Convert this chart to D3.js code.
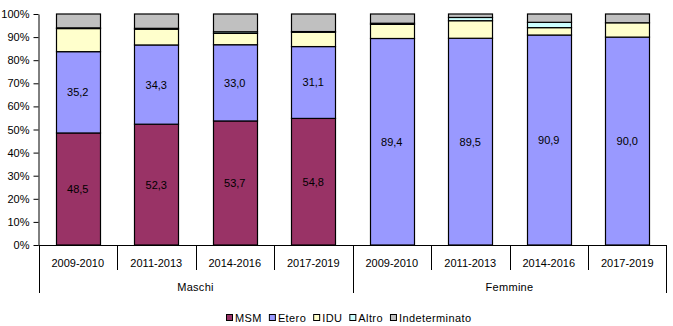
<!DOCTYPE html>
<html><head><meta charset="utf-8">
<script src="https://cdn.jsdelivr.net/npm/d3@7"></script>
<style>body{margin:0;background:#fff}svg{display:block;font-family:"Liberation Sans",Arial,sans-serif}</style>
</head><body><svg id="c" width="673" height="326"></svg>
<script>
const periods = ["2009-2010","2011-2013","2014-2016","2017-2019"];
const groups = ["Maschi","Femmine"];
const seriesNames = ["MSM","Etero","IDU","Altro","Indeterminato"];
const seriesColors = ["#993366","#9999FF","#FFFFCC","#CCFFFF","#C0C0C0"];
const msm   = [48.5,52.3,53.7,54.8, 0,0,0,0];
const etero = [35.2,34.3,33.0,31.1, 89.4,89.5,90.9,90.0];
const idu   = [10.0,6.8,4.9,6.2, 6.1,7.6,3.2,6.2];
const altro = [0.3,0.4,0.7,0.3, 0.5,1.4,2.3,0.0];
const indet = [6.0,6.2,7.7,7.6, 4.0,1.5,3.6,3.8];
const yTicks = [0,10,20,30,40,50,60,70,80,90,100];

(function(){
const svg = d3.select("#c");
const L = 38.5, R = 666.5, T = 14, B = 245;
const cats = [];
groups.forEach(g => periods.forEach(p => cats.push(g + "|" + p)));
const x = d3.scaleBand().domain(cats).range([L, R]).paddingInner(0.44).paddingOuter(0.22);
const y = d3.scaleLinear().domain([0,100]).range([B, T]);

const series = [msm, etero, idu, altro, indet];
const rows = cats.map((c,i) => {
  const o = {cat:c};
  seriesNames.forEach((s,k) => o[s] = series[k][i]);
  return o;
});
const stack = d3.stack().keys(seriesNames)(rows);

stack.forEach((layer,k) => {
  svg.append("g").selectAll("rect").data(layer.filter(d => d[1]-d[0] > 0)).join("rect")
    .attr("x", d => Math.round(x(d.data.cat)) + 0.5)
    .attr("width", Math.round(x.bandwidth()))
    .attr("y", d => y(d[1]))
    .attr("height", d => y(d[0]) - y(d[1]))
    .attr("fill", seriesColors[k]).attr("stroke", "#000").attr("stroke-width", 1.2);
});

[0,1].forEach(k => {
  svg.append("g").selectAll("text").data(stack[k].filter(d => d[1]-d[0] > 0)).join("text")
    .attr("x", d => x(d.data.cat) + x.bandwidth()/2)
    .attr("y", d => y((d[0]+d[1])/2) + 4)
    .attr("text-anchor","middle").attr("font-size", 11).attr("fill","#000")
    .text(d => d3.format(".1f")(d[1]-d[0]).replace(".", ","));
});

const ya = svg.append("g").attr("transform", `translate(${L},0)`)
  .call(d3.axisLeft(y).tickValues(yTicks).tickFormat(d => d + "%").tickSize(5).tickSizeOuter(0));
ya.select(".domain").attr("stroke","#000");
ya.selectAll("line").attr("stroke","#000");
ya.selectAll("text").attr("font-size",11).attr("fill","#000").attr("font-family","Liberation Sans, Arial, sans-serif").attr("x",-9);

svg.append("line").attr("x1",L).attr("x2",R).attr("y1",B+0.5).attr("y2",B+0.5).attr("stroke","#000");
const step = x.step();
cats.forEach((c,i) => {
  const xb = Math.round(L + i*step) + 0.5;
  const isGroup = i % periods.length === 0;
  svg.append("line").attr("x1",xb).attr("x2",xb).attr("y1",B).attr("y2", isGroup ? 293 : 270).attr("stroke","#000");
});
svg.append("line").attr("x1",R).attr("x2",R).attr("y1",B).attr("y2",293).attr("stroke","#000");

svg.append("g").selectAll("text").data(cats).join("text")
  .attr("x", d => x(d) + x.bandwidth()/2).attr("y", 267)
  .attr("text-anchor","middle").attr("font-size",11).text(d => d.split("|")[1]);
svg.append("g").selectAll("text").data(groups).join("text")
  .attr("x", (g,i) => L + (i + 0.5) * step * periods.length).attr("y", 291)
  .attr("text-anchor","middle").attr("font-size",11).attr("letter-spacing",0.3).text(d => d);

const lg = svg.append("g");
let cx = 0;
seriesNames.forEach((s,k) => {
  const it = lg.append("g").attr("transform", `translate(${cx},0)`);
  it.append("rect").attr("x",0.5).attr("y",-7.5).attr("width",6).attr("height",6).attr("fill",seriesColors[k]).attr("stroke","#000");
  const t = it.append("text").attr("x",9).attr("y",0).attr("font-size",11).attr("letter-spacing",0.4).text(s);
  cx += 9 + t.node().getComputedTextLength() + 7;
});
const lw = cx - 7;
lg.attr("transform", `translate(${Math.round(348.5 - lw/2)},322)`);
})();
</script></body></html>
